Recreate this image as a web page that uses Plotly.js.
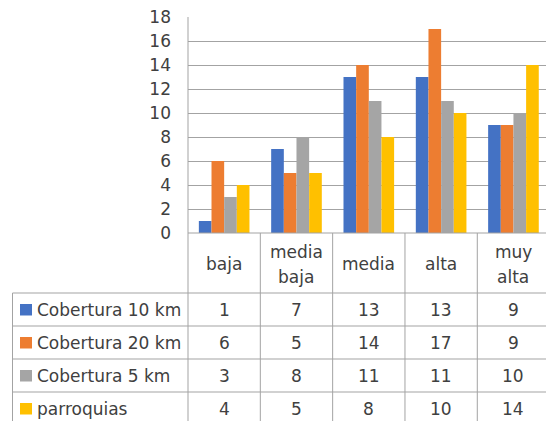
<!DOCTYPE html>
<html>
<head>
<meta charset="utf-8">
<script src="https://cdn.plot.ly/plotly-3.0.1.min.js"></script>
<style>html,body{margin:0;padding:0;background:#fff;}#chart{width:546px;height:421px;}</style>
</head>
<body>
<div id="chart"></div>
<script>
// ---- data ----
const categories = ['baja', 'media baja', 'media', 'alta', 'muy alta'];
const seriesNames = ['Cobertura 10 km', 'Cobertura 20 km', 'Cobertura 5 km', 'parroquias'];
const cobertura10 = [1, 7, 13, 13, 9];
const cobertura20 = [6, 5, 14, 17, 9];
const cobertura5 = [3, 8, 11, 11, 10];
const parroquias = [4, 5, 8, 10, 14];
const yTickValues = [0, 2, 4, 6, 8, 10, 12, 14, 16, 18];

// ---- styles / layout constants ----
const seriesValues = [cobertura10, cobertura20, cobertura5, parroquias];
const colors = ['#4472C4', '#ED7D31', '#A5A5A5', '#FFC000'];
const lineColor = '#a3a3a3';
const textColor = '#404040';
const FONT = 'DejaVu Sans, Verdana, sans-serif';
const FS = 17;
const W = 546, H = 421;
const mL = 188, mR = 0, mT = 17, mB = 188;
const plotW = W - mL - mR, plotH = H - mT - mB;
const xRange = [-0.5, 4.45];

const px2paperX = px => (px - mL) / plotW;
const py2paperY = py => (H - mB - py) / plotH;
const cat2paperX = c => (c - xRange[0]) / (xRange[1] - xRange[0]);

const traces = seriesNames.map((name, s) => ({
  type: 'bar',
  name: name,
  x: categories,
  y: seriesValues[s],
  marker: {color: colors[s], line: {width: 0}},
  hoverinfo: 'x+y+name'
}));

const shapes = [];
const annotations = [];
const bottom = py2paperY(H + 10);
const headerTop = py2paperY(233);
const rowLines = [293, 326, 359, 392];
const rowCenters = [309.5, 342.5, 375.5, 408.5];
const tableLeft = px2paperX(12.5);

// plot left border / first column border
shapes.push({type: 'line', xref: 'paper', yref: 'paper', x0: 0, x1: 0, y0: 1, y1: bottom,
  line: {color: lineColor, width: 1}});
// category separators
for (let i = 1; i <= categories.length; i++) {
  const xp = cat2paperX(i - 0.5);
  shapes.push({type: 'line', xref: 'paper', yref: 'paper', x0: xp, x1: xp, y0: headerTop, y1: bottom,
    line: {color: lineColor, width: 1}});
}
// header top line (baseline)
shapes.push({type: 'line', xref: 'paper', yref: 'paper', x0: 0, x1: 1.05, y0: headerTop, y1: headerTop,
  line: {color: lineColor, width: 1}});
// row lines
rowLines.forEach(py => {
  const yp = py2paperY(py);
  shapes.push({type: 'line', xref: 'paper', yref: 'paper', x0: tableLeft, x1: 1.05, y0: yp, y1: yp,
    line: {color: lineColor, width: 1}});
});
// table left border
shapes.push({type: 'line', xref: 'paper', yref: 'paper', x0: tableLeft, x1: tableLeft,
  y0: py2paperY(rowLines[0]), y1: bottom, line: {color: lineColor, width: 1}});

// header category labels
categories.forEach((c, i) => {
  const parts = c.split(' ');
  const pitch = 25, center = 264;
  parts.forEach((p, k) => {
    const py = center + (k - (parts.length - 1) / 2) * pitch;
    annotations.push({xref: 'x', yref: 'paper', x: c, y: py2paperY(py), text: p,
      showarrow: false, xanchor: 'center', yanchor: 'middle',
      font: {family: FONT, size: FS, color: textColor}});
  });
});

// legend column + values
seriesNames.forEach((name, s) => {
  const yc = rowCenters[s];
  shapes.push({type: 'rect', xref: 'paper', yref: 'paper',
    x0: px2paperX(20), x1: px2paperX(32), y0: py2paperY(yc - 5.5), y1: py2paperY(yc + 6),
    fillcolor: colors[s], line: {width: 0}});
  annotations.push({xref: 'paper', yref: 'paper', x: px2paperX(35), y: py2paperY(yc), text: name,
    showarrow: false, xanchor: 'left', yanchor: 'middle',
    font: {family: FONT, size: FS, color: textColor}});
  seriesValues[s].forEach((v, i) => {
    annotations.push({xref: 'x', yref: 'paper', x: categories[i], y: py2paperY(yc), text: String(v),
      showarrow: false, xanchor: 'center', yanchor: 'middle',
      font: {family: FONT, size: FS, color: textColor}});
  });
});

const layout = {
  width: W, height: H,
  margin: {l: mL, r: mR, t: mT, b: mB, pad: 0},
  paper_bgcolor: '#ffffff', plot_bgcolor: '#ffffff',
  showlegend: false,
  barmode: 'group', bargap: 0.3, bargroupgap: 0,
  font: {family: FONT, size: FS, color: textColor},
  xaxis: {type: 'category', range: xRange, showticklabels: false, showgrid: false,
    zeroline: false, showline: false, ticks: '', fixedrange: true},
  yaxis: {range: [0, 18], tickvals: yTickValues, showgrid: true, gridcolor: lineColor, gridwidth: 1,
    zeroline: false, showline: false, ticks: '', ticklabelstandoff: 16,
    tickfont: {family: FONT, size: FS, color: textColor}, fixedrange: true},
  shapes: shapes,
  annotations: annotations
};

Plotly.newPlot('chart', traces, layout, {displayModeBar: false, staticPlot: true});
</script>
</body>
</html>
